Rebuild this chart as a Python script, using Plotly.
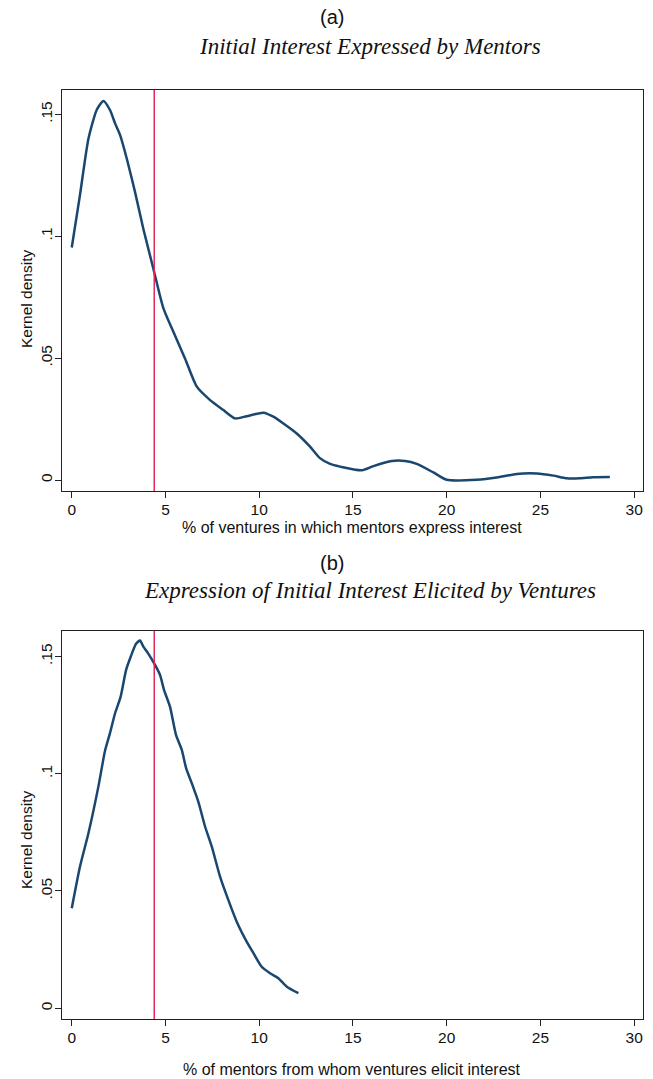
import plotly.graph_objects as go

# Panel (a): % of ventures in which mentors express interest
a_x = [0.0, 0.44, 0.89, 1.33, 1.69, 2.04, 2.31, 2.58, 2.93, 3.38, 3.82, 4.35, 4.89, 5.42,
       6.04, 6.67, 7.38, 8.09, 8.71, 9.33, 10.22, 10.75, 11.29, 12.0, 12.71, 13.24,
       13.78, 14.31, 15.47, 16.09, 17.07, 17.78, 18.4, 19.29, 20.0, 21.6, 22.67, 23.73,
       24.8, 25.69, 26.4, 27.1, 27.8, 28.7]
a_y = [0.0954, 0.117, 0.140, 0.1518, 0.1555, 0.1518, 0.1463, 0.1415, 0.132, 0.118, 0.103,
       0.0868, 0.0704, 0.0608, 0.0499, 0.0383, 0.0328, 0.0287, 0.0253, 0.0262, 0.0276,
       0.026, 0.0232, 0.0191, 0.0137, 0.0090, 0.0066, 0.0055, 0.0040, 0.0057, 0.0078,
       0.0078, 0.0066, 0.0031, 0.0001, 0.0001, 0.0010, 0.0025, 0.0027, 0.0018, 0.0007,
       0.0007, 0.0011, 0.0012]

# Panel (b): % of mentors from whom ventures elicit interest
b_x = [0.0, 0.44, 0.89, 1.42, 1.78, 2.04, 2.31, 2.61, 2.9, 3.16, 3.43, 3.64, 3.82, 4.09,
       4.44, 4.71, 4.92, 5.24, 5.56, 5.87, 6.1, 6.4, 6.75, 7.11, 7.47, 7.91, 8.35, 8.8,
       9.33, 9.69, 10.13, 10.58, 11.02, 11.47, 12.09]
b_y = [0.0426, 0.0604, 0.0746, 0.0945, 0.110, 0.1173, 0.1258, 0.1329, 0.1443, 0.1502,
       0.1554, 0.1568, 0.1542, 0.1511, 0.1464, 0.1421, 0.1358, 0.1286, 0.1166, 0.1102,
       0.1024, 0.096, 0.0881, 0.0775, 0.0689, 0.0561, 0.0462, 0.0369, 0.0284, 0.0235,
       0.0177, 0.0149, 0.0128, 0.0092, 0.0064]

ref_line = 4.4
x_ticks = [0, 5, 10, 15, 20, 25, 30]
y_ticks = [0, 0.05, 0.10, 0.15]
y_ticktext = ["0", ".05", ".1", ".15"]

navy = "#1a476f"
red = "#e2285a"
font = "Liberation Sans, Arial, sans-serif"
serif = "Liberation Serif, Times New Roman, serif"
W, H = 653, 1079

fig = go.Figure()
fig.add_trace(go.Scatter(x=a_x, y=a_y, mode="lines", line=dict(color=navy, width=2.5, shape="spline", smoothing=0.6),
                         xaxis="x", yaxis="y", showlegend=False))
fig.add_trace(go.Scatter(x=b_x, y=b_y, mode="lines", line=dict(color=navy, width=2.5, shape="spline", smoothing=0.6),
                         xaxis="x2", yaxis="y2", showlegend=False))

for xr, yr in [("x", "y"), ("x2", "y2")]:
    fig.add_shape(type="line", xref=xr, yref=yr + " domain", x0=ref_line, x1=ref_line, y0=0, y1=1,
                  line=dict(color=red, width=1.5))

axis_common = dict(showline=True, linecolor="#222", linewidth=1.3, mirror=True, ticks="outside",
                   ticklen=6, tickcolor="#222", showgrid=False, zeroline=False, automargin=False,
                   tickfont=dict(family=font, size=15.5, color="#111"))

xa = dict(axis_common, range=[-0.52, 30.47], tickvals=x_ticks, domain=[62 / W, 643 / W], ticklabelstandoff=-2)
ya = dict(axis_common, tickvals=y_ticks, ticktext=y_ticktext, tickangle=-90, ticklabelstandoff=-3)
fig.update_layout(
    width=W, height=H, paper_bgcolor="white", plot_bgcolor="white",
    margin=dict(l=0, r=0, t=0, b=0),
    font=dict(family=font, size=16, color="#111"),
    xaxis=dict(xa, anchor="y"),
    yaxis=dict(ya, range=[-0.0045, 0.16], domain=[1 - 491 / H, 1 - 90 / H], anchor="x"),
    xaxis2=dict(xa, anchor="y2"),
    yaxis2=dict(ya, range=[-0.0046, 0.161], domain=[1 - 1019 / H, 1 - 630.7 / H], anchor="x2"),
)

# (text, x px, y px, family, size, angle)
anns = [
    ("(a)", 332, 17, font, 20, 0),
    ("<i>Initial Interest Expressed by Mentors</i>", 370, 47, serif, 23, 0),
    ("(b)", 332, 563, font, 20, 0),
    ("<i>Expression of Initial Interest Elicited by Ventures</i>", 370, 590, serif, 23, 0),
    ("% of ventures in which mentors express interest", 352, 527, font, 16, 0),
    ("% of mentors from whom ventures elicit interest", 352, 1069, font, 16, 0),
    ("Kernel density", 26, 299, font, 15.5, -90),
    ("Kernel density", 26, 840, font, 15.5, -90),
]
for text, px, py, fam, size, ang in anns:
    fig.add_annotation(text=text, x=px / W, y=1 - py / H, xref="paper", yref="paper",
                       showarrow=False, xanchor="center", yanchor="middle", textangle=ang,
                       font=dict(family=fam, size=size, color="#111"))

fig.write_html("out.html", config={"displayModeBar": False},
               post_script="document.body.style.margin='0px';document.body.style.overflow='hidden';")
